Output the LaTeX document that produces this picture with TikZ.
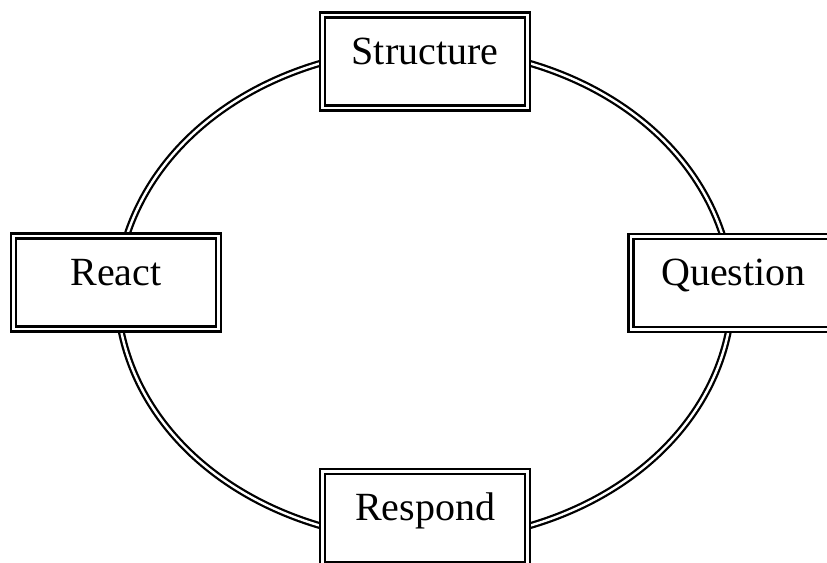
\documentclass[tikz,border=0pt]{standalone}
\usepackage{fontspec}
\setmainfont{Liberation Serif}
\usetikzlibrary{calc,backgrounds}
\begin{document}
\begin{tikzpicture}[x=0.75pt,y=-0.75pt,
  stage/.style={draw=black, fill=white, double=white, double distance=1.7pt,
    line width=1.9pt, minimum width=153.75pt, minimum height=69.75pt,
    inner sep=0pt, text height=4pt, text depth=0pt,
    font=\fontsize{30}{36}\selectfont},
  link/.style={draw=black, double=white, double distance=1.8pt, line width=1.7pt}]
\useasboundingbox (0,0) rectangle (827,562);

% the four stages of the cycle
\node[stage] (S) at (425,61.5)  {Structure};
\node[stage] (R) at (116,282.5) {React};
\node[stage] (Q) at (733.5,283) {Question};
\node[stage] (P) at (425,518)   {Respond};

% elliptical double links between neighbouring stages
\begin{scope}[on background layer]
  \draw[link] ($(S.west)+(0,1.5)$) .. controls (225.4,90.9) and (153.7,154.0) .. ($(R.north)+(11,0)$);
  \draw[link] ($(S.east)+(0,1.5)$) .. controls (624.6,90.9) and (696.3,154.0) .. ($(Q.north)+(-11,0)$);
  \draw[link] ($(R.south)+(5,0)$) .. controls (139.3,421.3) and (215.1,495.1) .. ($(P.west)+(0,8)$);
  \draw[link] ($(Q.south)+(-5,0)$) .. controls (710.7,421.3) and (634.9,495.1) .. ($(P.east)+(0,8)$);
\end{scope}
\end{tikzpicture}
\end{document}
